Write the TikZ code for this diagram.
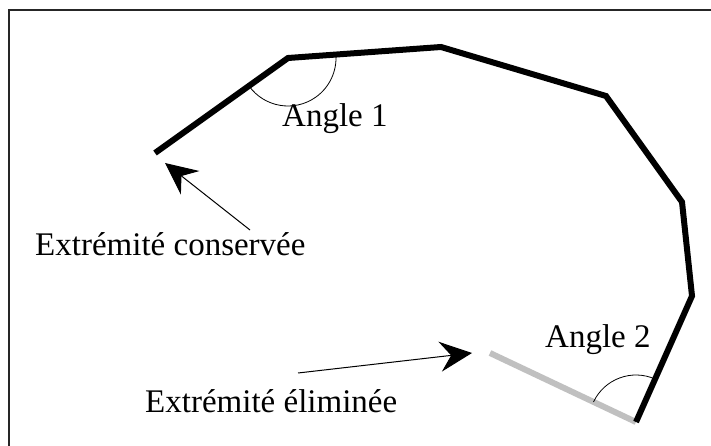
\documentclass[tikz,border=0pt]{standalone}
\usepackage{fontspec}
\setmainfont{Liberation Serif}
\usetikzlibrary{arrows.meta}
\begin{document}
\begin{tikzpicture}[x=1pt,y=-1pt,
  lbl/.style={anchor=base west,inner sep=0pt,font=\fontsize{33}{40}\selectfont},
  chain/.style={line width=6pt,black},
  dropped/.style={line width=6pt,color={rgb,255:red,192;green,192;blue,192}},
  anglearc/.style={line width=0.8pt},
  pointer/.style={line width=1pt,-{Stealth[length=32pt,width=30pt,inset=11pt]}}]
\useasboundingbox (0,0) rectangle (711,446);
\draw[line width=1.5pt,black!85] (9,446) -- (9,10) -- (711,10);
\coordinate (p0) at (155,153);
\coordinate (p1) at (288,58);
\coordinate (p2) at (441,47);
\coordinate (p3) at (606,96);
\coordinate (p4) at (682,202);
\coordinate (p5) at (692,296);
\coordinate (p6) at (636,422);
\coordinate (g0) at (490,353);
\draw[dropped] (g0) -- (p6);
\draw[chain] (p0) -- (p1) -- (p2) -- (p3) -- (p4) -- (p5) -- (p6);
\draw[anglearc] ([shift={(144.5:48)}]p1) arc[start angle=144.5,end angle=-4,radius=48];
\draw[anglearc] ([shift={(205.3:47)}]p6) arc[start angle=205.3,end angle=294,radius=47];
\node[lbl] (a1) at (282,127) {Angle 1};
\node[lbl] (a2) at (545,347) {Angle 2};
\node[lbl] (ec) at (35,255) {Extrémité conservée};
\node[lbl] (ee) at (145,412) {Extrémité éliminée};
\coordinate (s1) at (250,230);
\coordinate (t1) at (165,163);
\coordinate (s2) at (298,373);
\coordinate (t2) at (472,353);
\draw[pointer] (s1) -- (t1);
\draw[pointer] (s2) -- (t2);
\end{tikzpicture}
\end{document}
